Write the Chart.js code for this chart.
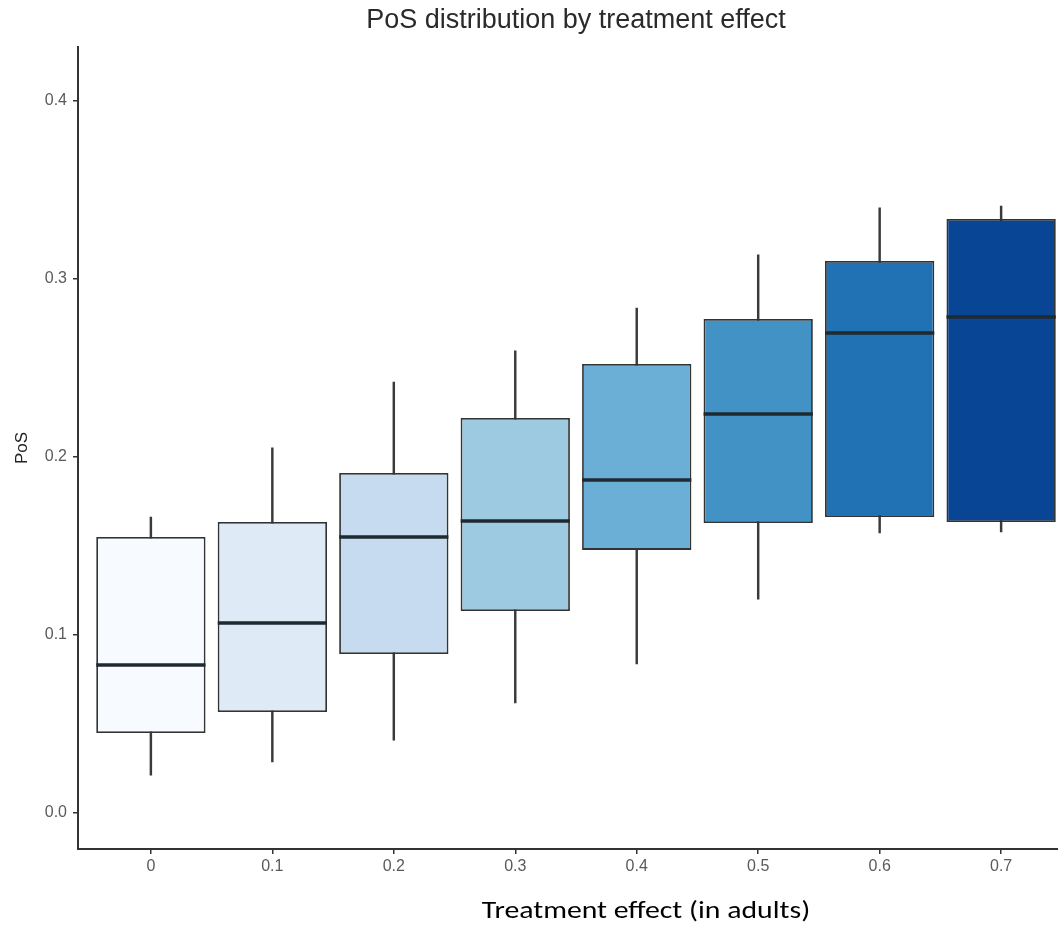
<!DOCTYPE html>
<html>
<head>
<meta charset="utf-8">
<script src="https://cdn.jsdelivr.net/npm/chart.js@4"></script>
<style>
  html, body { margin: 0; padding: 0; background: #ffffff; overflow: hidden; }
  #wrap { position: relative; width: 1080px; height: 925px; }
  #xtitle {
    position: absolute; left: 396px; width: 500px; top: 895px;
    text-align: center; font-family: Carlito, Calibri, "Open Sans", Lato, sans-serif;
    font-size: 25px; line-height: 30px; color: #000;
    transform: scaleX(1.19); transform-origin: 250px 50%;
  }
</style>
</head>
<body>
<div id="wrap">
  <canvas id="c" width="1080" height="925"></canvas>
  <div id="xtitle">Treatment effect (in adults)</div>
</div>
<script>
// ---- data ----
const categories = ['0', '0.1', '0.2', '0.3', '0.4', '0.5', '0.6', '0.7'];
const whiskerLow = [0.0213, 0.0287, 0.0410, 0.0618, 0.0837, 0.1202, 0.1573, 0.1579];
const q1         = [0.0449, 0.0567, 0.0893, 0.1135, 0.1478, 0.1629, 0.1663, 0.1635];
const medians    = [0.0831, 0.1067, 0.1551, 0.1640, 0.1871, 0.2242, 0.2697, 0.2787];
const q3         = [0.1551, 0.1635, 0.1910, 0.2219, 0.2522, 0.2775, 0.3101, 0.3337];
const whiskerHigh= [0.1663, 0.2051, 0.2421, 0.2596, 0.2837, 0.3135, 0.3399, 0.3410];
const yTicks = [0, 0.1, 0.2, 0.3, 0.4];
const boxColors = ['#F7FBFF', '#DEEBF7', '#C6DBEF', '#9ECAE1', '#6BAED6', '#4292C6', '#2171B5', '#084594'];

const boxData = categories.map((c, i) => ({ x: i, y: [q1[i], q3[i]] }));
const whiskerData = categories.map((c, i) => ({ x: i, y: [whiskerLow[i], whiskerHigh[i]] }));
const medianData = categories.map((c, i) => ({ x: i, y: medians[i] }));

const tickFont = { family: "'Liberation Sans', Arial, sans-serif", size: 16 };

new Chart(document.getElementById('c'), {
  type: 'bar',
  data: {
    datasets: [
      {
        type: 'line',
        label: 'median',
        data: medianData,
        showLine: false,
        pointStyle: 'line',
        pointRadius: 54.6,
        pointHoverRadius: 54.6,
        pointBorderWidth: 3.5,
        pointBorderColor: '#1e2a30',
        borderColor: '#1e2a30',
        clip: false,
        order: 1
      },
      {
        label: 'box',
        data: boxData,
        backgroundColor: boxColors,
        borderColor: '#333333',
        borderWidth: 1.8,
        borderSkipped: false,
        barPercentage: 0.9,
        categoryPercentage: 1.0,
        grouped: false,
        order: 2
      },
      {
        label: 'whisker',
        data: whiskerData,
        backgroundColor: '#3a3a3a',
        borderWidth: 0,
        barThickness: 1.8,
        grouped: false,
        order: 3
      }
    ]
  },
  options: {
    responsive: false,
    animation: false,
    layout: { autoPadding: false, padding: { left: 0, right: 6, top: 0, bottom: 0 } },
    plugins: {
      legend: { display: false },
      tooltip: { enabled: false },
      title: {
        display: true,
        fullSize: false,
        text: 'PoS distribution by treatment effect',
        color: '#2a2a2a',
        font: { family: "'Liberation Sans', Arial, sans-serif", size: 27, weight: 'normal' },
        padding: { top: 4, bottom: 10.6 }
      }
    },
    scales: {
      x: {
        type: 'linear',
        min: -0.6,
        max: 7.6,
        offset: false,
        afterBuildTicks: (scale) => { scale.ticks = categories.map((c, i) => ({ value: i })); },
        afterFit: (scale) => { scale.height = 76; },
        ticks: {
          callback: (v, i) => categories[i],
          color: '#5a5a5a',
          font: tickFont,
          padding: 3,
          maxRotation: 0,
          autoSkip: false
        },
        grid: { display: true, offset: false, drawOnChartArea: false, drawTicks: true, tickLength: 5, color: '#333333', lineWidth: 1.5 },
        border: { display: true, color: '#333333', width: 2 }
      },
      y: {
        type: 'linear',
        min: -0.0202,
        max: 0.4303,
        afterBuildTicks: (scale) => { scale.ticks = yTicks.map(v => ({ value: v })); },
        afterFit: (scale) => { scale.width = 78; },
        ticks: {
          callback: (v) => Number(v).toFixed(1),
          color: '#5a5a5a',
          font: tickFont,
          padding: 6
        },
        grid: { display: true, drawOnChartArea: false, drawTicks: true, tickLength: 5, color: '#333333', lineWidth: 1.5 },
        border: { display: true, color: '#333333', width: 2 },
        title: {
          display: true,
          text: 'PoS',
          color: '#222222',
          font: { family: "'Liberation Sans', Arial, sans-serif", size: 17 },
          padding: { top: 12, bottom: 0 }
        }
      }
    }
  }
});
</script>
</body>
</html>
